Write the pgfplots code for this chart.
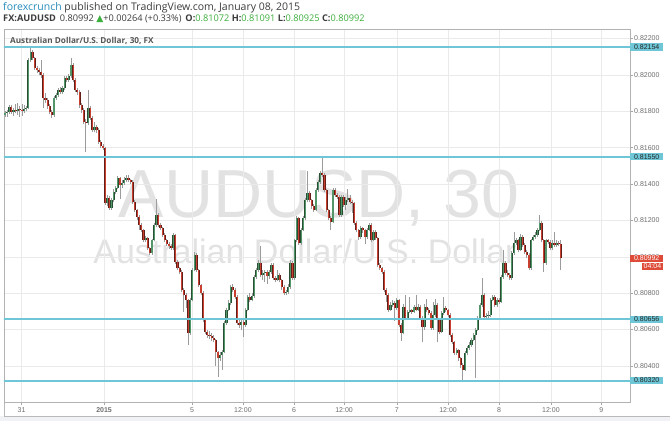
\documentclass[border=0pt]{standalone}
\usepackage{pgfplots}
\pgfplotsset{compat=1.18}
\usepackage{pgfplotstable}
\usepackage{fontspec}
\setmainfont{Liberation Sans}
\newfontfamily\hdr{Open Sans}
\newfontfamily\sym{DejaVu Sans}
\definecolor{fcblue}{RGB}{40,140,190}
\definecolor{hdrtxt}{RGB}{60,60,60}
\definecolor{upg}{RGB}{60,175,60}
\definecolor{lev}{RGB}{110,198,214}
\definecolor{wm}{RGB}{226,226,226}
\definecolor{tickc}{RGB}{110,110,110}
\definecolor{gridc}{RGB}{234,234,234}
\definecolor{gfill}{RGB}{83,150,105}
\definecolor{gdark}{RGB}{40,78,52}
\definecolor{rfill}{RGB}{200,64,48}
\definecolor{rdark}{RGB}{100,30,25}
\definecolor{wick}{RGB}{155,155,155}
\definecolor{redlab}{RGB}{222,75,57}
\definecolor{band}{RGB}{240,242,245}
\definecolor{ttl}{RGB}{85,85,85}
\pgfplotstableread{
i o h l c
0 0.81779 0.81802 0.81768 0.81790
1 0.81790 0.81808 0.81770 0.81796
2 0.81796 0.81835 0.81785 0.81823
3 0.81823 0.81834 0.81784 0.81796
4 0.81796 0.81820 0.81775 0.81807
5 0.81807 0.81840 0.81790 0.81801
6 0.81801 0.81845 0.81780 0.81812
7 0.81812 0.81830 0.81770 0.81807
8 0.81807 0.81840 0.81775 0.81801
9 0.81801 0.81835 0.81790 0.81812
10 0.81812 0.81830 0.81800 0.81818
11 0.81818 0.82090 0.81810 0.82081
12 0.82081 0.82145 0.82070 0.82125
13 0.82125 0.82136 0.82080 0.82092
14 0.82092 0.82100 0.82025 0.82037
15 0.82037 0.82050 0.82010 0.82026
16 0.82026 0.82040 0.82000 0.82015
17 0.82015 0.82080 0.81985 0.81999
18 0.81999 0.82010 0.81818 0.81873
19 0.81873 0.81900 0.81845 0.81862
20 0.81862 0.81875 0.81815 0.81829
21 0.81829 0.81840 0.81785 0.81796
22 0.81796 0.81805 0.81765 0.81779
23 0.81779 0.81885 0.81770 0.81873
24 0.81873 0.81900 0.81860 0.81889
25 0.81889 0.81930 0.81880 0.81916
26 0.81916 0.81935 0.81895 0.81905
27 0.81905 0.81940 0.81895 0.81927
28 0.81927 0.81995 0.81915 0.81982
29 0.81982 0.81995 0.81960 0.81971
30 0.81971 0.82005 0.81960 0.81993
31 0.81993 0.82092 0.81985 0.82054
32 0.82054 0.82065 0.81960 0.81971
33 0.81971 0.81980 0.81905 0.81916
34 0.81916 0.81930 0.81890 0.81905
35 0.81905 0.81915 0.81820 0.81834
36 0.81834 0.81845 0.81790 0.81807
37 0.81807 0.81820 0.81730 0.81741
38 0.81741 0.81760 0.81576 0.81735
39 0.81735 0.81916 0.81725 0.81818
40 0.81818 0.81830 0.81750 0.81763
41 0.81763 0.81775 0.81685 0.81697
42 0.81697 0.81740 0.81685 0.81713
43 0.81713 0.81725 0.81680 0.81697
44 0.81697 0.81710 0.81620 0.81631
45 0.81631 0.81640 0.81598 0.81609
46 0.81609 0.81620 0.81585 0.81598
47 0.81598 0.81605 0.81285 0.81296
48 0.81296 0.81340 0.81280 0.81323
49 0.81323 0.81335 0.81255 0.81268
50 0.81268 0.81325 0.81260 0.81312
51 0.81312 0.81370 0.81300 0.81356
52 0.81356 0.81390 0.81345 0.81378
53 0.81378 0.81445 0.81370 0.81433
54 0.81433 0.81440 0.81320 0.81395
55 0.81395 0.81420 0.81380 0.81405
56 0.81405 0.81440 0.81395 0.81422
57 0.81422 0.81450 0.81410 0.81433
58 0.81433 0.81450 0.81410 0.81422
59 0.81422 0.81430 0.81400 0.81411
60 0.81411 0.81420 0.81290 0.81301
61 0.81301 0.81310 0.81245 0.81257
62 0.81257 0.81265 0.81205 0.81219
63 0.81219 0.81230 0.81150 0.81175
64 0.81175 0.81185 0.81135 0.81147
65 0.81147 0.81155 0.81080 0.81092
66 0.81092 0.81115 0.81080 0.81103
67 0.81103 0.81110 0.81035 0.81048
68 0.81048 0.81055 0.81010 0.81021
69 0.81021 0.81100 0.81010 0.81092
70 0.81092 0.81185 0.81085 0.81175
71 0.81175 0.81320 0.81165 0.81230
72 0.81230 0.81240 0.81165 0.81175
73 0.81175 0.81185 0.81145 0.81158
74 0.81158 0.81165 0.81110 0.81120
75 0.81120 0.81130 0.81080 0.81092
76 0.81092 0.81100 0.81060 0.81070
77 0.81070 0.81080 0.81045 0.81059
78 0.81059 0.81070 0.81035 0.81048
79 0.81048 0.81130 0.81040 0.81120
80 0.81120 0.81125 0.80960 0.80971
81 0.80971 0.80980 0.80925 0.80938
82 0.80938 0.80945 0.80905 0.80916
83 0.80916 0.80925 0.80805 0.80818
84 0.80818 0.80830 0.80697 0.80790
85 0.80790 0.80800 0.80720 0.80763
86 0.80763 0.80770 0.80515 0.80581
87 0.80581 0.80775 0.80570 0.80763
88 0.80763 0.80940 0.80755 0.80927
89 0.80927 0.81025 0.80920 0.81010
90 0.81010 0.81020 0.80915 0.80927
91 0.80927 0.80935 0.80835 0.80845
92 0.80845 0.80850 0.80790 0.80801
93 0.80801 0.80810 0.80640 0.80653
94 0.80653 0.80660 0.80575 0.80587
95 0.80587 0.80600 0.80555 0.80570
96 0.80570 0.80590 0.80550 0.80565
97 0.80565 0.80580 0.80540 0.80554
98 0.80554 0.80570 0.80530 0.80543
99 0.80543 0.80550 0.80400 0.80477
100 0.80477 0.80485 0.80340 0.80444
101 0.80444 0.80475 0.80430 0.80460
102 0.80460 0.80490 0.80380 0.80477
103 0.80477 0.80645 0.80470 0.80636
104 0.80636 0.80720 0.80625 0.80708
105 0.80708 0.80760 0.80700 0.80746
106 0.80746 0.80845 0.80735 0.80834
107 0.80834 0.80850 0.80805 0.80818
108 0.80818 0.80830 0.80770 0.80779
109 0.80779 0.80790 0.80625 0.80636
110 0.80636 0.80650 0.80610 0.80625
111 0.80625 0.80655 0.80600 0.80642
112 0.80642 0.80650 0.80560 0.80625
113 0.80625 0.80720 0.80615 0.80708
114 0.80708 0.80790 0.80700 0.80779
115 0.80779 0.80800 0.80750 0.80763
116 0.80763 0.80800 0.80755 0.80785
117 0.80785 0.80900 0.80775 0.80889
118 0.80889 0.80940 0.80880 0.80927
119 0.80927 0.80980 0.80915 0.80966
120 0.80966 0.81060 0.80890 0.80900
121 0.80900 0.80925 0.80870 0.80911
122 0.80911 0.80930 0.80860 0.80916
123 0.80916 0.80925 0.80850 0.80895
124 0.80895 0.80930 0.80880 0.80916
125 0.80916 0.80965 0.80905 0.80955
126 0.80955 0.80965 0.80870 0.80884
127 0.80884 0.80895 0.80860 0.80873
128 0.80873 0.80930 0.80865 0.80900
129 0.80900 0.80910 0.80860 0.80873
130 0.80873 0.80880 0.80820 0.80834
131 0.80834 0.80845 0.80790 0.80801
132 0.80801 0.80820 0.80790 0.80807
133 0.80807 0.80850 0.80795 0.80834
134 0.80834 0.80980 0.80825 0.80966
135 0.80966 0.80975 0.80870 0.80884
136 0.80884 0.81100 0.80875 0.81092
137 0.81092 0.81225 0.81080 0.81213
138 0.81213 0.81220 0.81065 0.81076
139 0.81076 0.81160 0.81065 0.81147
140 0.81147 0.81225 0.81140 0.81213
141 0.81213 0.81325 0.81200 0.81312
142 0.81312 0.81470 0.81300 0.81351
143 0.81351 0.81360 0.81300 0.81312
144 0.81312 0.81320 0.81265 0.81279
145 0.81279 0.81290 0.81245 0.81257
146 0.81257 0.81380 0.81250 0.81367
147 0.81367 0.81420 0.81355 0.81411
148 0.81411 0.81470 0.81400 0.81460
149 0.81460 0.81555 0.81440 0.81449
150 0.81449 0.81460 0.81355 0.81367
151 0.81367 0.81375 0.81245 0.81257
152 0.81257 0.81265 0.81200 0.81213
153 0.81213 0.81225 0.81150 0.81191
154 0.81191 0.81380 0.81185 0.81367
155 0.81367 0.81380 0.81330 0.81340
156 0.81340 0.81350 0.81320 0.81329
157 0.81329 0.81340 0.81220 0.81230
158 0.81230 0.81340 0.81220 0.81329
159 0.81329 0.81340 0.81275 0.81285
160 0.81285 0.81330 0.81260 0.81312
161 0.81312 0.81370 0.81300 0.81323
162 0.81323 0.81340 0.81290 0.81301
163 0.81301 0.81310 0.81240 0.81296
164 0.81296 0.81300 0.81175 0.81186
165 0.81186 0.81195 0.81135 0.81147
166 0.81147 0.81155 0.81095 0.81109
167 0.81109 0.81170 0.81100 0.81158
168 0.81158 0.81165 0.81130 0.81147
169 0.81147 0.81155 0.81070 0.81109
170 0.81109 0.81160 0.81100 0.81147
171 0.81147 0.81185 0.81140 0.81175
172 0.81175 0.81185 0.81080 0.81092
173 0.81092 0.81150 0.81085 0.81136
174 0.81136 0.81145 0.81090 0.81103
175 0.81103 0.81110 0.80945 0.80955
176 0.80955 0.80965 0.80925 0.80938
177 0.80938 0.80945 0.80905 0.80916
178 0.80916 0.80925 0.80805 0.80818
179 0.80818 0.80830 0.80750 0.80790
180 0.80790 0.80800 0.80695 0.80708
181 0.80708 0.80750 0.80700 0.80735
182 0.80735 0.80760 0.80725 0.80746
183 0.80746 0.80755 0.80645 0.80719
184 0.80719 0.80775 0.80710 0.80763
185 0.80763 0.80770 0.80615 0.80625
186 0.80625 0.80635 0.80540 0.80581
187 0.80581 0.80740 0.80575 0.80724
188 0.80724 0.80790 0.80655 0.80664
189 0.80664 0.80710 0.80650 0.80697
190 0.80697 0.80780 0.80690 0.80708
191 0.80708 0.80715 0.80685 0.80697
192 0.80697 0.80735 0.80690 0.80724
193 0.80724 0.80790 0.80700 0.80708
194 0.80708 0.80740 0.80700 0.80724
195 0.80724 0.80735 0.80650 0.80664
196 0.80664 0.80675 0.80530 0.80614
197 0.80614 0.80740 0.80600 0.80724
198 0.80724 0.80770 0.80695 0.80708
199 0.80708 0.80720 0.80680 0.80691
200 0.80691 0.80700 0.80595 0.80609
201 0.80609 0.80750 0.80600 0.80680
202 0.80680 0.80770 0.80670 0.80735
203 0.80735 0.80745 0.80530 0.80653
204 0.80653 0.80660 0.80575 0.80587
205 0.80587 0.80700 0.80580 0.80691
206 0.80691 0.80780 0.80680 0.80719
207 0.80719 0.80730 0.80695 0.80708
208 0.80708 0.80715 0.80670 0.80680
209 0.80680 0.80690 0.80560 0.80570
210 0.80570 0.80580 0.80520 0.80532
211 0.80532 0.80540 0.80460 0.80471
212 0.80471 0.80500 0.80460 0.80488
213 0.80488 0.80495 0.80430 0.80444
214 0.80444 0.80450 0.80390 0.80405
215 0.80405 0.80415 0.80320 0.80378
216 0.80378 0.80480 0.80370 0.80471
217 0.80471 0.80510 0.80460 0.80499
218 0.80499 0.80530 0.80490 0.80515
219 0.80515 0.80555 0.80505 0.80543
220 0.80543 0.80580 0.80535 0.80570
221 0.80570 0.80610 0.80334 0.80598
222 0.80598 0.80675 0.80590 0.80664
223 0.80664 0.80745 0.80655 0.80735
224 0.80735 0.80884 0.80725 0.80790
225 0.80790 0.80800 0.80660 0.80669
226 0.80669 0.80690 0.80660 0.80675
227 0.80675 0.80700 0.80665 0.80680
228 0.80680 0.80775 0.80670 0.80763
229 0.80763 0.80790 0.80755 0.80779
230 0.80779 0.80790 0.80725 0.80735
231 0.80735 0.80775 0.80725 0.80763
232 0.80763 0.80775 0.80740 0.80752
233 0.80752 0.80900 0.80745 0.80889
234 0.80889 0.81037 0.80880 0.80966
235 0.80966 0.80975 0.80900 0.80911
236 0.80911 0.80925 0.80890 0.80900
237 0.80900 0.80910 0.80870 0.80884
238 0.80884 0.81030 0.80875 0.81021
239 0.81021 0.81136 0.81010 0.81076
240 0.81076 0.81105 0.81065 0.81092
241 0.81092 0.81100 0.81025 0.81037
242 0.81037 0.81125 0.81030 0.81109
243 0.81109 0.81120 0.81055 0.81065
244 0.81065 0.81075 0.81015 0.81026
245 0.81026 0.81035 0.80995 0.81010
246 0.81010 0.81020 0.80925 0.80938
247 0.80938 0.81100 0.80930 0.81092
248 0.81092 0.81120 0.81085 0.81109
249 0.81109 0.81135 0.81100 0.81120
250 0.81120 0.81160 0.81110 0.81147
251 0.81147 0.81230 0.81140 0.81186
252 0.81186 0.81195 0.81080 0.81092
253 0.81092 0.81100 0.80916 0.80966
254 0.80966 0.81100 0.80955 0.81092
255 0.81092 0.81100 0.81070 0.81081
256 0.81081 0.81090 0.81035 0.81048
257 0.81048 0.81090 0.81040 0.81076
258 0.81076 0.81136 0.81055 0.81065
259 0.81065 0.81090 0.81055 0.81076
260 0.81076 0.81085 0.81060 0.81072
261 0.81072 0.81091 0.80925 0.80992
}\candles
\begin{document}
\begin{tikzpicture}
\path[use as bounding box] (0pt,0pt) rectangle (670pt,-421pt);
\fill[white] (0pt,0pt) rectangle (670pt,-421pt);
\fill[band] (0pt,-416pt) rectangle (670pt,-421pt);
\draw[gray!55, line width=0.6pt] (4pt,-29pt) -- (4pt,-416pt) -- (670pt,-416pt);
% watermark
\node[text=wm, font=\fontsize{68}{68}\selectfont, anchor=base, inner sep=0] at (319pt,-217pt) {AUDUSD, 30};
\node[text=wm, font=\fontsize{34}{34}\selectfont, anchor=base, inner sep=0] at (305pt,-263pt) {Australian Dollar/U.S. Dollar};
\begin{axis}[
  scale only axis, width=626pt, height=373pt,
  at={(4pt,-402pt)}, anchor=south west,
  xmin=-0.47, xmax=293.43, ymin=0.80202, ymax=0.82252,
  clip mode=individual,
  axis line style={draw=gray!60, line width=0.6pt},
  xtick pos=left, ytick pos=right, yticklabel pos=right,
  tick align=outside, major tick length=3pt,
  tick style={draw=gray!70, line width=0.5pt},
  grid=major, major grid style={draw=gridc, line width=0.6pt},
  xtick={7.8,46.5,87.8,111.7,135.7,159.2,184,208,232,256.3,280},
  xticklabels={31,\textbf{2015},5,12:00,6,12:00,7,12:00,8,12:00,9},
  ytick={0.804,0.806,0.808,0.810,0.812,0.814,0.816,0.818,0.820,0.822},
  yticklabels={0.80400,0.80600,0.80800,0.81000,0.81200,0.81400,0.81600,0.81800,0.82000,0.82200},
  xticklabel style={font=\fontsize{7}{8}\selectfont, text=tickc, inner sep=2pt},
  yticklabel style={font=\fontsize{7}{8}\selectfont, text=tickc, inner sep=1pt},
  candle/.style={draw=none, no markers, forget plot, unbounded coords=discard,
    error bars/y dir=plus, error bars/y explicit, error bars/error mark=none},
]
% wicks
\addplot[candle, error bars/error bar style={draw=wick, line width=0.9pt}]
  table[x=i, y=l, y error plus expr=\thisrow{h}-\thisrow{l}] {\candles};
% up bodies
\addplot[candle, error bars/error bar style={draw=gdark, line width=2.1pt}]
  table[x=i, y expr={\thisrow{c}<\thisrow{o} ? nan : \thisrow{o}}, y error plus expr=\thisrow{c}-\thisrow{o}] {\candles};
\addplot[candle, error bars/error bar style={draw=gfill, line width=1.1pt}]
  table[x=i, y expr={\thisrow{c}<\thisrow{o} ? nan : \thisrow{o}}, y error plus expr=\thisrow{c}-\thisrow{o}] {\candles};
% down bodies
\addplot[candle, error bars/error bar style={draw=rdark, line width=2.1pt}]
  table[x=i, y expr={\thisrow{c}<\thisrow{o} ? \thisrow{c} : nan}, y error plus expr=\thisrow{o}-\thisrow{c}] {\candles};
\addplot[candle, error bars/error bar style={draw=rfill, line width=1.1pt}]
  table[x=i, y expr={\thisrow{c}<\thisrow{o} ? \thisrow{c} : nan}, y error plus expr=\thisrow{o}-\thisrow{c}] {\candles};
% levels
\addplot[lev, line width=2pt, forget plot] coordinates {(-1,0.82154) (300,0.82154)};
\addplot[lev, line width=2pt, forget plot] coordinates {(-1,0.81550) (300,0.81550)};
\addplot[lev, line width=2pt, forget plot] coordinates {(-1,0.80656) (300,0.80656)};
\addplot[lev, line width=2pt, forget plot] coordinates {(-1,0.80320) (300,0.80320)};
% price labels
\node[anchor=west, fill=lev, text=black!85, font=\fontsize{7}{8}\selectfont, inner xsep=2pt, inner ysep=1.2pt, minimum width=33pt] at (axis cs:293.43,0.82154) {0.82154};
\node[anchor=west, fill=lev, text=black!85, font=\fontsize{7}{8}\selectfont, inner xsep=2pt, inner ysep=1.2pt, minimum width=33pt] at (axis cs:293.43,0.81550) {0.81550};
\node[anchor=west, fill=lev, text=black!85, font=\fontsize{7}{8}\selectfont, inner xsep=2pt, inner ysep=1.2pt, minimum width=33pt] at (axis cs:293.43,0.80656) {0.80656};
\node[anchor=west, fill=lev, text=black!85, font=\fontsize{7}{8}\selectfont, inner xsep=2pt, inner ysep=1.2pt, minimum width=33pt] at (axis cs:293.43,0.80320) {0.80320};
\node[anchor=west, fill=redlab, text=white, font=\fontsize{7}{8}\selectfont, inner xsep=2pt, inner ysep=1.2pt, minimum width=33pt] (rl) at (axis cs:293.43,0.80992) {0.80992};
\node[anchor=north east, fill=redlab, text=white, font=\fontsize{7}{8}\selectfont, inner xsep=2pt, inner ysep=1.2pt] at ([yshift=-0.5pt]rl.south east) {04:04};
\end{axis}
% header
\node[anchor=west, inner sep=0, font=\hdr\fontsize{10.5}{12}\selectfont] at (3pt,-7.5pt) {\textcolor{fcblue}{forexcrunch} \textcolor{hdrtxt}{published on TradingView.com, January 08, 2015}};
\node[anchor=west, inner sep=0, font=\hdr\fontsize{9.2}{11}\selectfont, text=hdrtxt] at (3pt,-18.5pt) {\textbf{FX:AUDUSD}\, 0.80992 {\sym\textcolor{upg}{▲}}+0.00264 (+0.33\%)\, \textbf{O:}\textcolor{upg}{0.81072} \textbf{H:}\textcolor{upg}{0.81091} \textbf{L:}\textcolor{upg}{0.80925} \textbf{C:}\textcolor{upg}{0.80992}};
\node[anchor=west, inner sep=0, font=\hdr\bfseries\fontsize{8.2}{9}\selectfont, text=ttl] at (10pt,-40.5pt) {Australian Dollar/U.S. Dollar, 30, FX};
\end{tikzpicture}
\end{document}
